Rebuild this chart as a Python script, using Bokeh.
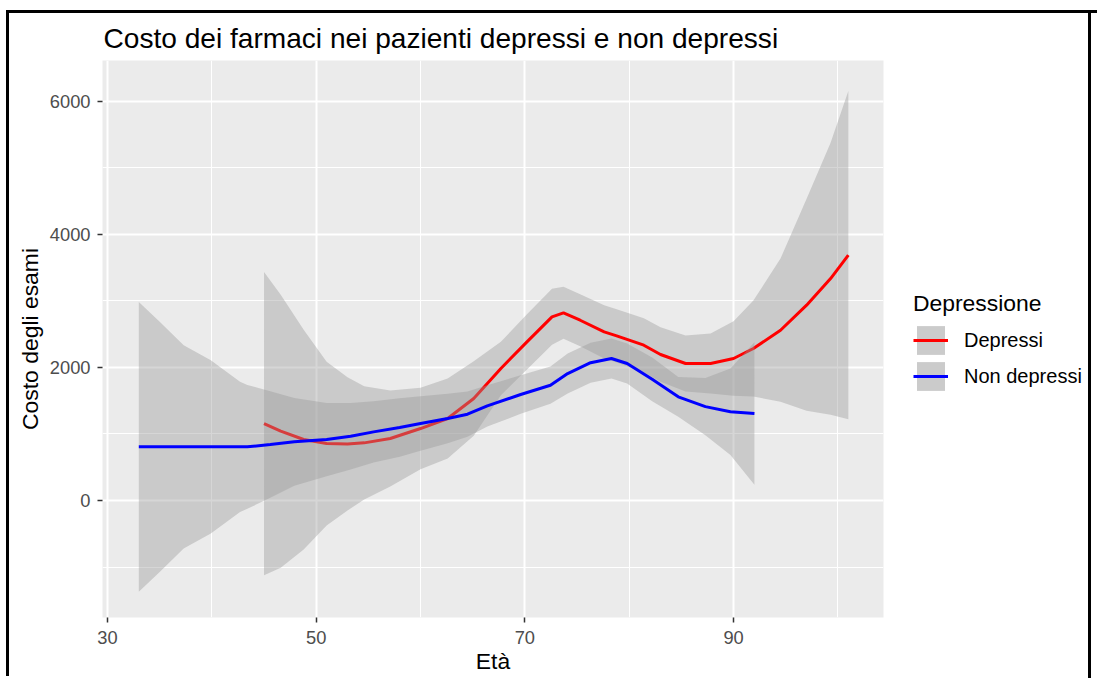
from bokeh.plotting import figure
from bokeh.models import (FixedTicker, Legend, LegendItem, ColumnDataSource, Range1d,
                          InlineStyleSheet)
from bokeh.embed import file_html
from bokeh.resources import INLINE

# ---- data (loess fits with 95% band) ----
age_dep = [45, 46.6, 48.8, 51, 53, 54.6, 57.1, 60, 62.6, 65.1, 67.7, 70.2, 72.6,
           73.7, 75.3, 77.6, 78.8, 81.4, 83, 85.4, 87.8, 90, 91.9, 94.5, 97, 99.3, 101]
cost_dep = [1156, 1041, 916, 856, 850, 866, 931, 1081, 1232, 1532, 1983, 2383, 2759,
            2819, 2708, 2533, 2473, 2333, 2193, 2058, 2058, 2133, 2283, 2558, 2934, 3334, 3685]
lower_dep = [-1122, -1009, -734, -374, -150, 16, 211, 468, 632, 972, 1583, 1968, 2339,
             2429, 2318, 2133, 2073, 1928, 1783, 1638, 1608, 1573, 1563, 1482, 1350, 1290, 1220]
upper_dep = [3434, 3091, 2566, 2086, 1850, 1716, 1651, 1694, 1832, 2092, 2383, 2798, 3179,
             3209, 3098, 2933, 2873, 2738, 2603, 2478, 2508, 2693, 3003, 3634, 4534, 5374, 6150]

age_non = [33, 35, 37.3, 39.9, 42.7, 43.4, 45.6, 47.9, 51, 53.3, 55.5, 58, 60, 62.6,
           64.5, 66.4, 69.6, 72.45, 74.1, 76.3, 78.3, 79.8, 82.2, 84.7, 87.3, 89.7, 92]
cost_non = [806, 806, 806, 806, 806, 806, 841, 881, 916, 966, 1031, 1096, 1156, 1232,
            1297, 1422, 1592, 1732, 1907, 2070, 2133, 2058, 1820, 1557, 1410, 1332, 1307]
lower_non = [-1370, -1074, -721, -494, -171, -124, 41, 221, 366, 466, 571, 656, 746, 862,
             957, 1112, 1302, 1452, 1607, 1770, 1833, 1758, 1490, 1257, 980, 682, 237]
upper_non = [2980, 2686, 2333, 2106, 1783, 1736, 1641, 1541, 1466, 1466, 1491, 1536, 1566, 1602,
             1637, 1732, 1882, 2012, 2207, 2370, 2433, 2358, 2150, 1857, 1840, 1982, 2377]

groups = ["Depressi", "Non depressi"]
x_ticks = [30, 50, 70, 90]
x_minor = [40, 60, 80, 100]
y_ticks = [0, 2000, 4000, 6000]
y_minor = [-1000, 1000, 3000, 5000]

FONT = "Liberation Sans"

# canvas sits inside a 3px black frame (screenshot border)
p = figure(frame_width=781, frame_height=557, output_backend="svg", toolbar_location=None,
           x_range=Range1d(29.52, 104.37), y_range=Range1d(-1757, 6609),
           min_border_left=93, min_border_right=205, min_border_top=30,
           min_border_bottom=59)
p.margin = (10, 0, 0, 6)
p.styles = {"box-sizing": "content-box",
            "border-top": "3px solid black", "border-left": "3px solid black"}
p.stylesheets = [InlineStyleSheet(css=(
    ":host::after { content: ''; position: absolute; left: 1079px; top: -3px; "
    "width: 3px; height: 700px; background: black; z-index: 100; }"))]

p.background_fill_color = "#EBEBEB"
p.border_fill_color = "white"
p.outline_line_color = None

# title
p.title.text = "Costo dei farmaci nei pazienti depressi e non depressi"
p.title.text_font = FONT
p.title.text_font_size = "28.1px"
p.title.text_font_style = "normal"
p.title.text_color = "black"
p.title.align = "left"
p.title.offset = 1
p.title.standoff = 14

# axes
for ax in (p.xaxis[0], p.yaxis[0]):
    ax.axis_line_color = None
    ax.major_tick_in = 0
    ax.major_tick_out = 5
    ax.major_tick_line_color = "#333333"
    ax.major_tick_line_width = 1.5
    ax.minor_tick_line_color = None
    ax.major_label_text_font = FONT
    ax.major_label_text_font_size = "18.3px"
    ax.major_label_text_color = "#4D4D4D"
    ax.axis_label_text_font = FONT
    ax.axis_label_text_font_size = "22.9px"
    ax.axis_label_text_font_style = "normal"
    ax.axis_label_text_color = "black"

p.xaxis.ticker = FixedTicker(ticks=x_ticks, minor_ticks=x_minor)
p.yaxis.ticker = FixedTicker(ticks=y_ticks, minor_ticks=y_minor)
p.xaxis.axis_label = "Età"
p.yaxis.axis_label = "Costo degli esami"
p.xaxis.major_label_standoff = 8
p.xaxis.axis_label_standoff = 1
p.yaxis.major_label_standoff = 7
p.yaxis.axis_label_standoff = 4
p.yaxis.formatter.use_scientific = False

for g in (p.xgrid[0], p.ygrid[0]):
    g.grid_line_color = "white"
    g.grid_line_width = 2
    g.minor_grid_line_color = "white"
    g.minor_grid_line_width = 1

# data sources
src_dep = ColumnDataSource(dict(x=age_dep, y=cost_dep, lo=lower_dep, hi=upper_dep))
src_non = ColumnDataSource(dict(x=age_non, y=cost_non, lo=lower_non, hi=upper_non))

band_dep = p.varea(x="x", y1="lo", y2="hi", source=src_dep,
                   fill_color="#999999", fill_alpha=0.4)
line_dep = p.line(x="x", y="y", source=src_dep, line_color="#FF0000", line_width=3)
band_non = p.varea(x="x", y1="lo", y2="hi", source=src_non,
                   fill_color="#999999", fill_alpha=0.4)
line_non = p.line(x="x", y="y", source=src_non, line_color="#0000FF", line_width=3)

# legend key backgrounds (grey band key as in ggplot); zero-height, invisible in the panel
key_dep = p.varea(x=[40, 40.001], y1=[0, 0], y2=[0, 0], fill_color="#CBCBCB", fill_alpha=1.0)
key_non = p.varea(x=[40, 40.001], y1=[0, 0], y2=[0, 0], fill_color="#CBCBCB", fill_alpha=1.0)

legend = Legend(items=[LegendItem(label=groups[0], renderers=[key_dep, line_dep]),
                       LegendItem(label=groups[1], renderers=[key_non, line_non])],
                title="Depressione", location=(30, 223))
legend.title_text_font = FONT
legend.title_text_font_size = "22.9px"
legend.title_text_font_style = "normal"
legend.title_text_color = "black"
legend.title_standoff = 5
legend.label_text_font = FONT
legend.label_text_font_size = "20px"
legend.label_text_color = "black"
legend.glyph_width = 35
legend.glyph_height = 36
legend.label_height = 36
legend.spacing = 0
legend.label_standoff = 16
legend.padding = 5
legend.margin = 0
legend.border_line_color = None
legend.background_fill_color = "white"
legend.background_fill_alpha = 0.0
p.add_layout(legend, "right")

open("out.html", "w").write(file_html(p, INLINE))
